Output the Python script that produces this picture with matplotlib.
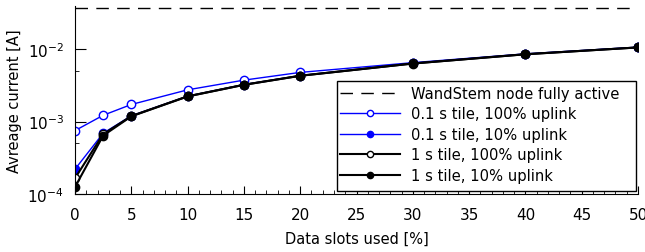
import math
import matplotlib
matplotlib.use("Agg")
import matplotlib.pyplot as plt
from matplotlib.patches import Rectangle
from matplotlib.ticker import FixedLocator, MultipleLocator, FuncFormatter

x = [0, 2.5, 5, 10, 15, 20, 30, 40, 50]
tile01_up100 = [7.5e-4, 1.22e-3, 1.72e-3, 2.74e-3, 3.73e-3, 4.77e-3, 6.5e-3, 8.6e-3, 1.065e-2]
tile01_up10 = [2.2e-4, 6.9e-4, 1.2e-3, 2.24e-3, 3.24e-3, 4.3e-3, 6.35e-3, 8.5e-3, 1.057e-2]
tile1_up100 = [1.65e-4, 6.7e-4, 1.19e-3, 2.23e-3, 3.22e-3, 4.29e-3, 6.33e-3, 8.5e-3, 1.055e-2]
tile1_up10 = [1.25e-4, 6.4e-4, 1.18e-3, 2.22e-3, 3.21e-3, 4.28e-3, 6.32e-3, 8.48e-3, 1.055e-2]
full_active = 0.037

labels = ["WandStem node fully active", "0.1 s tile, 100% uplink",
          "0.1 s tile, 10% uplink", "1 s tile, 100% uplink", "1 s tile, 10% uplink"]

plt.rcParams['font.family'] = ['DejaVu Sans']
plt.rcParams['mathtext.fontset'] = 'dejavusans'

W, H = 645, 253
fig = plt.figure(figsize=(6.45, 2.53), dpi=100)
ax = fig.add_axes([75/W, 1-195/H, (638-75)/W, (195-7)/H])

ax.axhline(full_active, color='black', lw=1.0, dashes=(9, 6), label=labels[0])
ax.plot(x, tile01_up100, color='blue', lw=1.0, marker='o', ms=6, mfc='white', mec='blue', mew=1.0, label=labels[1])
ax.plot(x, tile01_up10, color='blue', lw=1.0, marker='o', ms=6, mfc='blue', mec='blue', label=labels[2])
ax.plot(x, tile1_up100, color='black', lw=1.5, marker='o', ms=6, mfc='white', mec='black', mew=1.0, label=labels[3])
ax.plot(x, tile1_up10, color='black', lw=1.5, marker='o', ms=6, mfc='black', mec='black', label=labels[4])

ax.set_yscale('log')
ax.set_xlim(0, 50)
ax.set_ylim(1e-4, 10**-1.405)
ax.xaxis.set_major_locator(MultipleLocator(5))
ax.xaxis.set_minor_locator(MultipleLocator(1))
ax.yaxis.set_major_locator(FixedLocator([1e-4, 1e-3, 1e-2]))
ax.yaxis.set_minor_locator(FixedLocator([5e-4, 5e-3]))
ax.yaxis.set_major_formatter(FuncFormatter(lambda v, p: r'$10^{%d}$' % round(math.log10(v))))
ax.yaxis.set_minor_formatter(FuncFormatter(lambda v, p: ''))

ax.spines['top'].set_visible(False)
ax.spines['right'].set_visible(False)
ax.tick_params(which='both', direction='in', labelsize=11)
ax.tick_params(which='major', length=6)
ax.tick_params(which='minor', length=3)
ax.tick_params(axis='y', which='major', length=8, pad=8)
ax.tick_params(axis='x', pad=9.5)

ax.set_xlabel("Data slots used [%]", fontsize=10.5, labelpad=6)
ax.set_ylabel("Avreage current [A]", fontsize=10.5, labelpad=4)

leg = ax.legend(loc='upper left', bbox_to_anchor=(340/W, 1-87/H), bbox_transform=fig.transFigure,
                fontsize=10.6, frameon=False,
                handlelength=4.1, labelspacing=0.37, borderpad=0.0, handletextpad=0.7, markerscale=0.75,
                borderaxespad=0)
leg.set_zorder(6)
box = Rectangle((337/W, 1-192/H), (636-337)/W, (192-82)/H, transform=fig.transFigure,
                facecolor='white', edgecolor='black', lw=1.0, zorder=5, clip_on=False)
ax.add_artist(box)

fig.savefig("out.png", dpi=100)
